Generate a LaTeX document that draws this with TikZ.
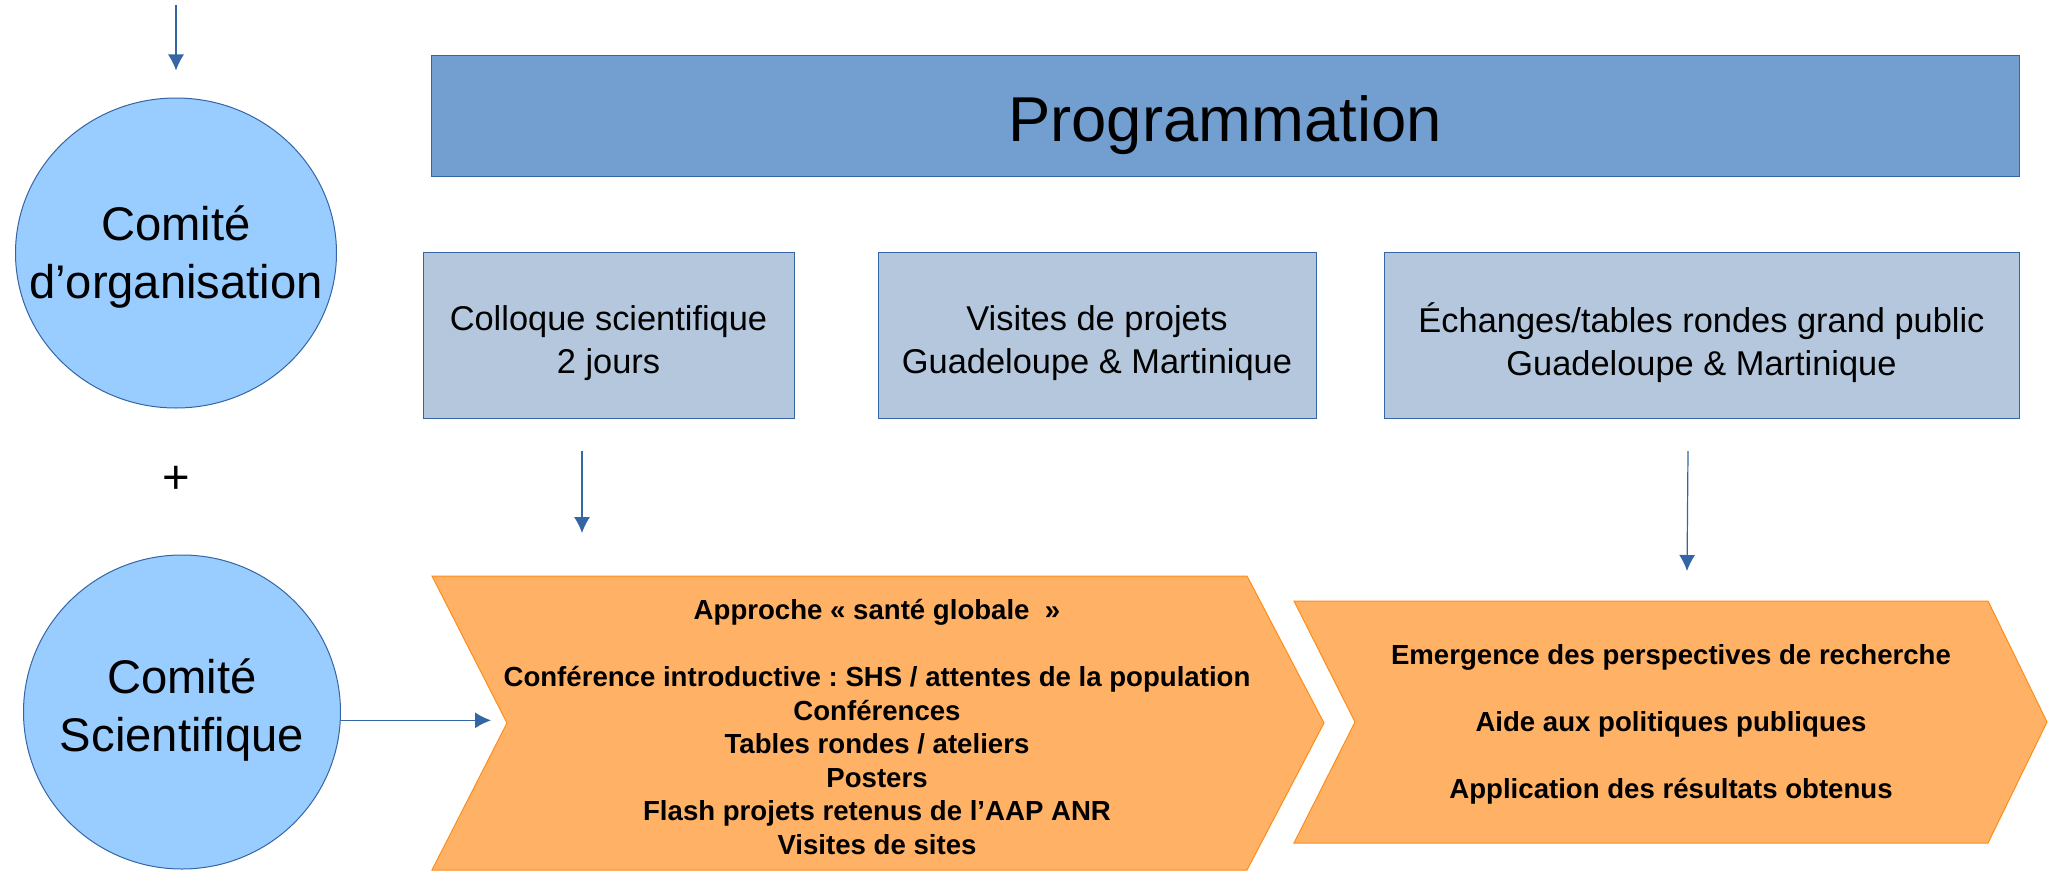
\documentclass[tikz,border=0pt]{standalone}
\usepackage{fontspec}
\setmainfont{Liberation Sans}
\usetikzlibrary{shapes.geometric,arrows.meta}
\definecolor{bleuprog}{HTML}{729FCF}
\definecolor{bleubox}{HTML}{B4C7DC}
\definecolor{bleucirc}{HTML}{99CCFF}
\definecolor{bleutrait}{HTML}{3465A4}
\definecolor{orangefond}{HTML}{FFB266}
\definecolor{orangetrait}{HTML}{FF8C1A}
\frenchspacing

\begin{document}
\begin{tikzpicture}[x=0.5pt,y=-0.5pt,
    comite/.style={ellipse,draw=bleutrait,fill=bleucirc,line width=0.5pt,inner sep=0pt},
    comtxt/.style={align=center,font=\fontsize{23.6}{29}\selectfont},
    bloc/.style={rectangle,draw=bleutrait,fill=bleubox,line width=0.5pt,minimum height=83pt},
    bloctxt/.style={align=center,font=\fontsize{17.2}{21.5}\selectfont},
    fleche/.style={draw=bleutrait,line width=0.6pt,-{Latex[length=8pt,width=8pt]}},
    chevron/.style={draw=orangetrait,fill=orangefond,line width=0.5pt},
    puces/.style={align=center,font=\bfseries\fontsize{13.8}{16.75}\selectfont}]
    \useasboundingbox (0,0) rectangle (2049,872);
    % les deux comites
    \node[comite,minimum width=160.5pt,minimum height=155pt] (org) at (176,253) {};
    \node[comtxt] (orgtxt) at (176,257) {Comité\\d’organisation};
    \node[font=\fontsize{23.6}{29}\selectfont] (plus) at (176,480) {+};
    \node[comite,minimum width=158.5pt,minimum height=157pt] (sci) at (182,712) {};
    \node[comtxt] (scitxt) at (182,710) {Comité\\Scientifique};
    % programmation
    \node[draw=bleutrait,fill=bleuprog,line width=0.5pt,minimum width=794pt,minimum height=60pt] (prog) at (1225,116) {};
    \node[font=\fontsize{31.7}{38}\selectfont] (progtxt) at (1225,125) {Programmation};
    \node[bloc,minimum width=185.5pt] (colloque) at (608.5,335) {};
    \node[bloc,minimum width=219pt] (visites) at (1097,335) {};
    \node[bloc,minimum width=317.5pt] (echanges) at (1701.5,335) {};
    \node[bloctxt] (colloquetxt) at (608.5,343) {Colloque scientifique\\2 jours};
    \node[bloctxt] (visitestxt) at (1097,343) {Visites de projets\\Guadeloupe \& Martinique};
    \node[bloctxt] (echangestxt) at (1701.5,343) {Échanges/tables rondes grand public\\Guadeloupe \& Martinique};
    % chevrons
    \draw[chevron] (432,576) -- (1247,576) -- (1324,723) -- (1247,870) -- (432,870) -- (507,723) coordinate (ch1in) -- cycle;
    \draw[chevron] (1294,601) -- (1988,601) -- (2047,722) -- (1988,843) -- (1294,843) -- (1355,722) -- cycle;
    \node[puces] (ch1txt) at (877,727) {Approche «~santé globale~~»\\[16.75pt]Conférence introductive : SHS / attentes de la population\\Conférences\\Tables rondes / ateliers\\Posters\\Flash projets retenus de l’AAP ANR\\Visites de sites};
    \node[puces] (ch2txt) at (1671,724) {Emergence des perspectives de recherche\\[16.75pt]Aide aux politiques publiques\\[16.75pt]Application des résultats obtenus};
    % fleches
    \coordinate (entree) at (176,5);
    \coordinate (c1haut) at (582,451);
    \coordinate (c1bas) at (582,533);
    \coordinate (c3haut) at (1688,451);
    \coordinate (c3bas) at (1687,571);
    \draw[fleche,shorten >=13.5pt] (entree) -- (org.north);
    \draw[fleche,shorten >=8pt] (sci.-3) -- (sci.-3 -| ch1in);
    \draw[fleche] (c1haut) -- (c1bas);
    \draw[fleche] (c3haut) -- (c3bas);
\end{tikzpicture}
\end{document}
